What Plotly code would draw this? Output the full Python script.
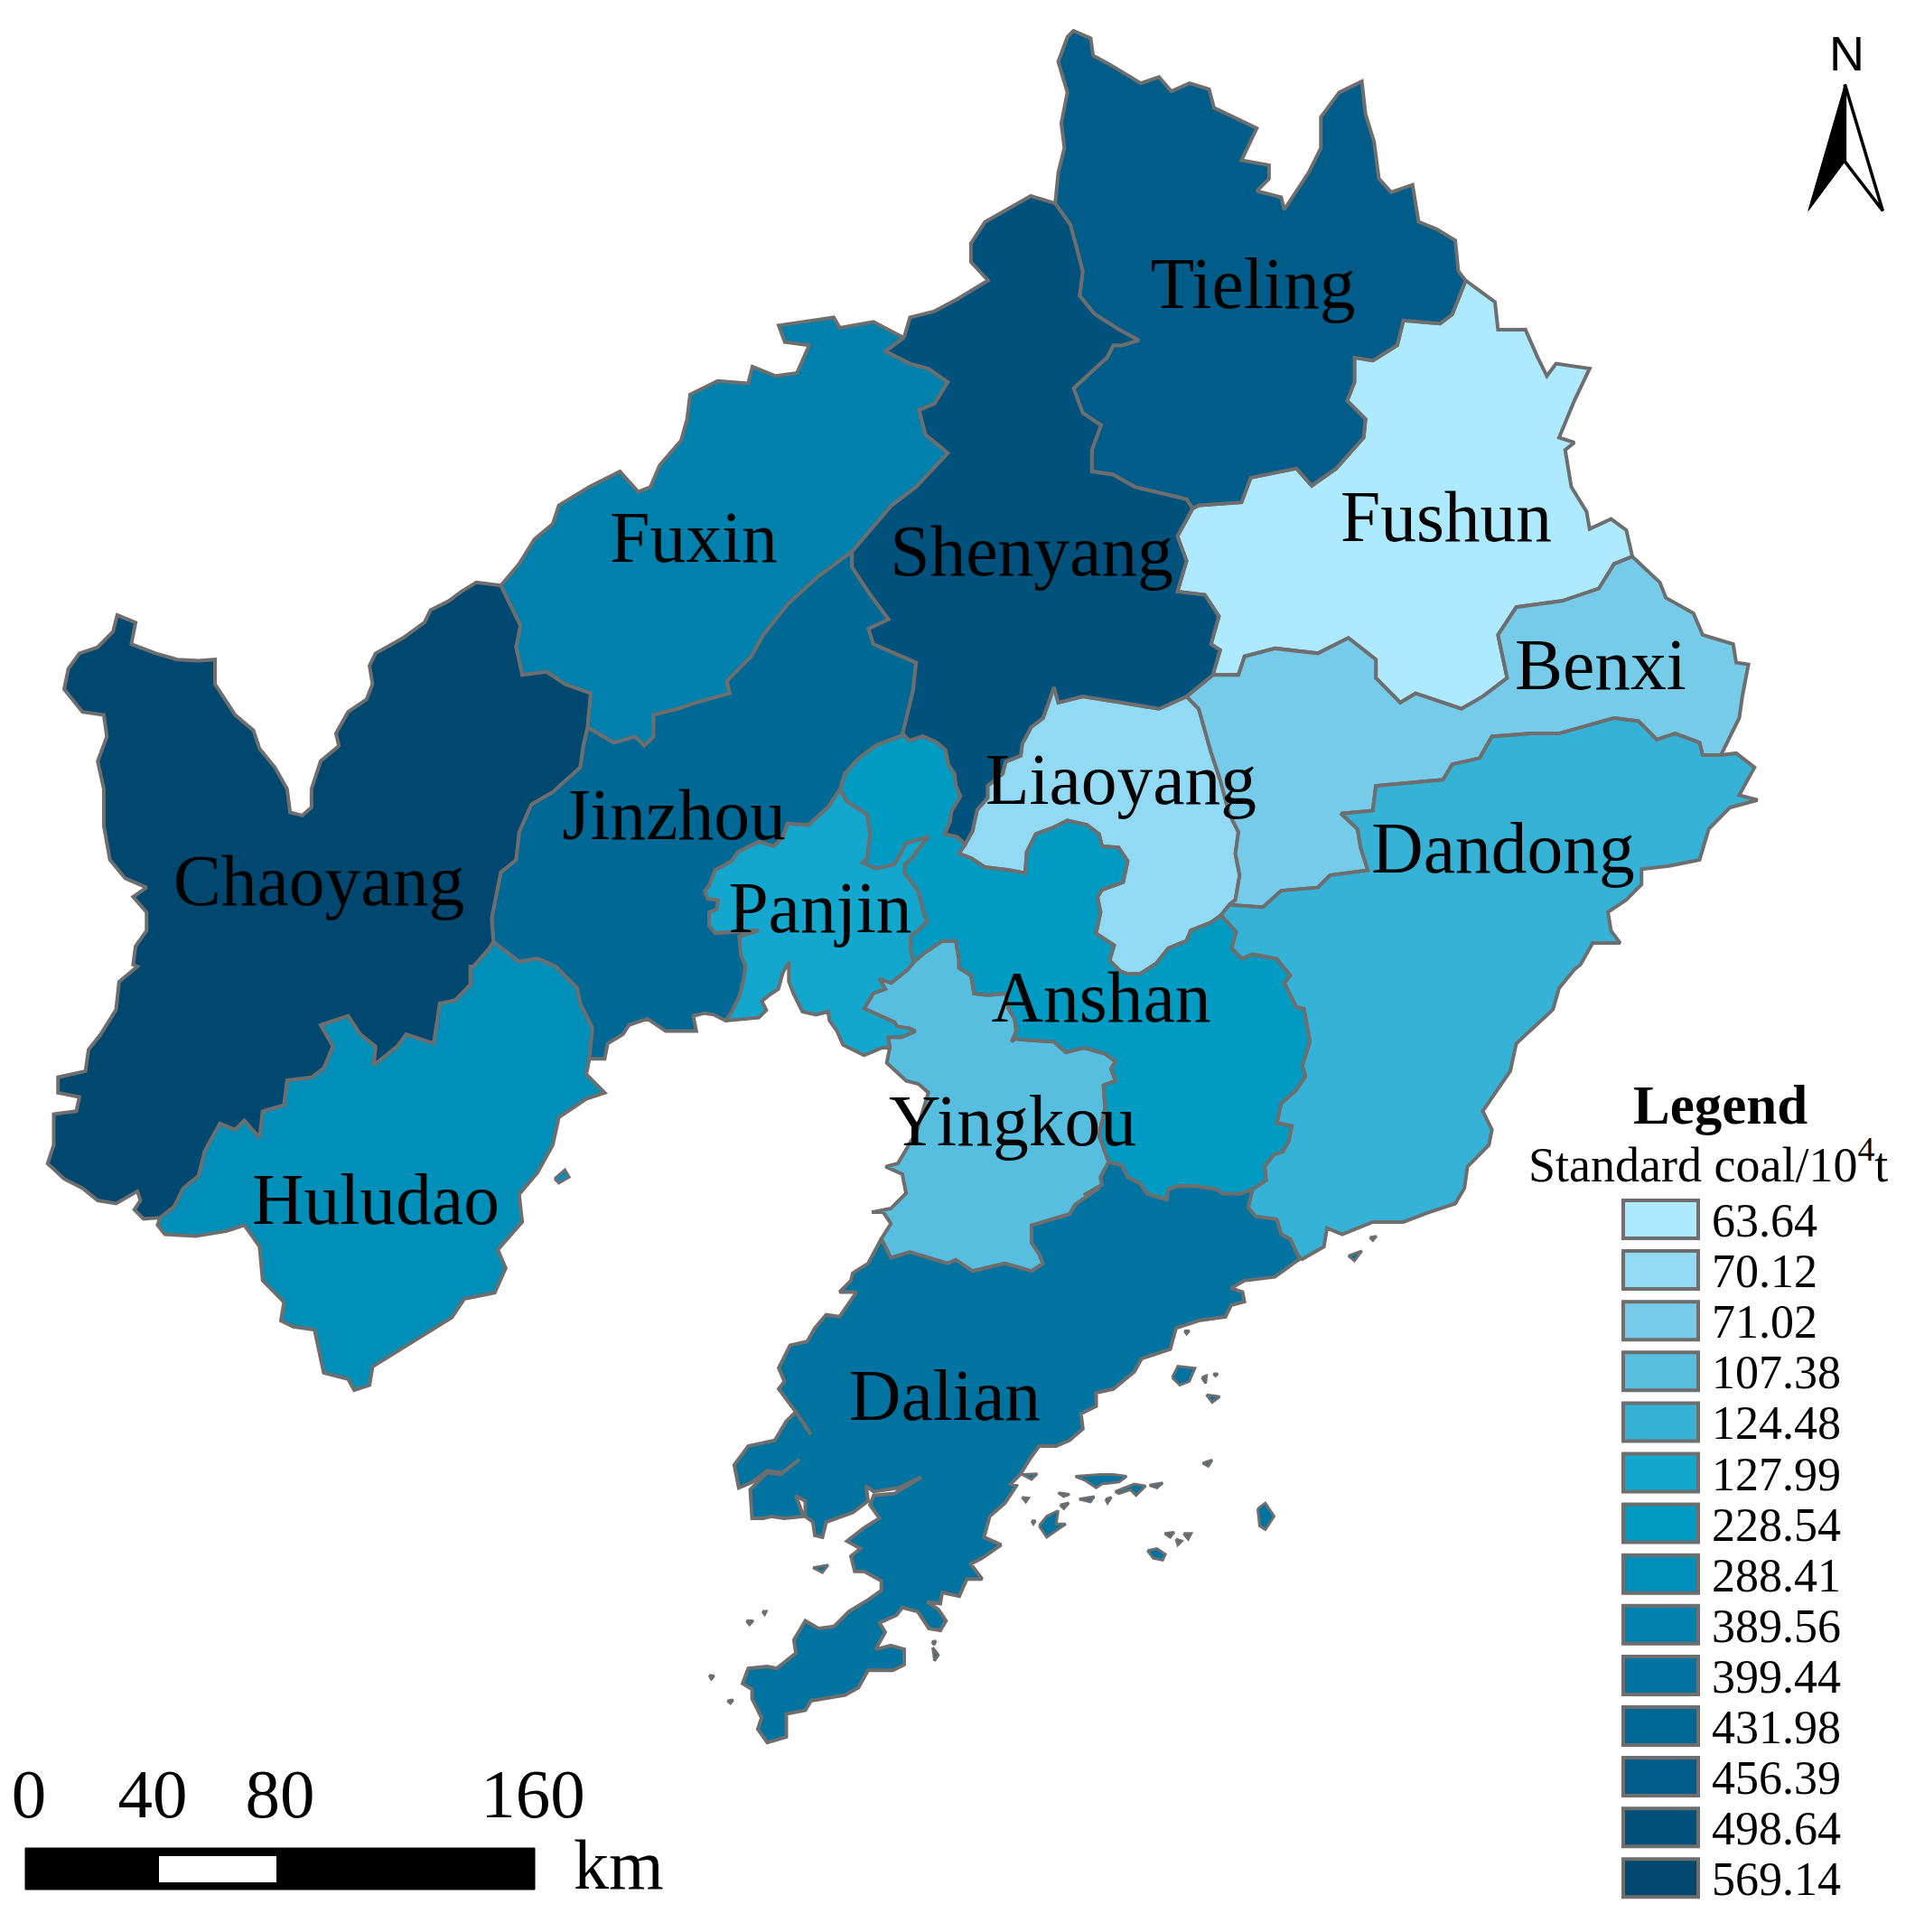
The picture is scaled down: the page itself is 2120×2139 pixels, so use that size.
import plotly.graph_objects as go

# Crops the outlines were read from: (left, top, x magnification, y magnification) in page units
Q1 = (0, 0, 1.479, 1.4654); Q2 = (1060, 0, 1.479, 1.4654); Q3 = (0, 1070, 1.479, 1.4668); Q4 = (1060, 1070, 1.479, 1.4668)
C5 = (760, 780, 3.0, 3.0); C6 = (780, 1300, 2.376, 2.376); C7 = (1120, 1000, 3.0, 3.0)

def P(crop, pts):
    ox, oy, kx, ky = crop
    return [(ox + x / kx, oy + y / ky) for x, y in pts]

def R(seg):
    return seg[::-1]

# ---- shared borders ----
COAST_CH = P(Q1, [(820,950),(780,945),(755,960),(735,975),(705,990),(695,1010),(660,1035),(615,1060),(605,1080),(610,1110),(600,1135),(570,1155),(550,1190),(555,1210),(525,1235),(510,1280),(510,1310),(495,1323),(475,1318),(470,1280),(450,1245),(425,1215),(415,1185),(385,1160),(352,1110),(352,1070),(325,1072),(290,1070),(255,1060),(215,1045),(222,1010),(192,998),(185,1025),(160,1050),(130,1060),(112,1085),(105,1118),(135,1155),(170,1160),(175,1195),(160,1235),(170,1280),(170,1340),(180,1395),(205,1425),(240,1440),(218,1455),(240,1480),(240,1510),(222,1535),(218,1565)]) + \
    P(Q3, [(225,0),(195,25),(190,70),(165,110),(145,135),(140,170),(95,180),(95,205),(130,212),(125,235),(88,240),(88,290),(78,320),(105,345),(135,360),(160,380),(190,385),(225,365),(230,380),(220,395),(235,410),(262,408)])
CH_HU = P(Q3, [(262,408),(285,390),(300,360),(325,340),(335,300),(360,255),(385,265),(400,250),(425,278),(430,235),(465,225),(470,185),(510,180),(530,165),(545,130),(525,95),(570,80),(590,110),(615,130),(612,160),(625,150),(650,130),(665,110),(710,125),(720,60),(745,55),(770,30),(770,0)]) + \
    P(Q1, [(775,1568),(800,1540),(808,1528)])
CH_JZ = P(Q1, [(808,1528),(805,1490),(820,1415),(845,1395),(850,1350),(870,1305),(905,1285),(950,1245),(955,1210),(962,1180)])
FU_CH = P(Q1, [(820,950),(852,1015),(845,1050),(855,1095),(895,1090),(925,1110),(967,1125),(962,1180)])
COAST_FU = P(Q1, [(820,950),(850,915),(875,875),(905,850),(915,820),(965,790),(1015,765),(1045,798),(1065,790),(1080,755),(1115,715),(1125,680),(1130,640),(1175,618),(1225,622),(1232,595),(1270,610),(1305,605),(1325,560),(1285,555),(1275,528),(1365,515),(1375,532),(1430,522),(1480,548)])
FU_SY = P(Q1, [(1480,548),(1450,570),(1490,590),(1520,598),(1552,620),(1530,655),(1505,665),(1515,705),(1552,735),(1500,790),(1460,820),(1395,895)])
FU_JZ = P(Q1, [(962,1180),(1005,1205),(1040,1195),(1055,1210),(1070,1195),(1070,1160),(1110,1150),(1140,1140),(1195,1125),(1190,1105),(1230,1065),(1250,1030),(1290,980),(1340,935),(1395,895)])
SY_JZ = P(Q1, [(1395,895),(1395,920),(1425,965),(1455,1005),(1422,1020),(1430,1045),(1500,1075),(1495,1120),(1478,1190)])
AS_JZ = P(C5, [(722,100),(630,135),(570,180),(525,230),(510,280)])
PJ_JZ = P(C5, [(510,280),(470,340),(415,390),(405,400),(335,395),(320,440),(290,470),(240,455),(170,490),(150,520),(95,550),(75,600),(60,620),(70,645),(105,650),(100,680),(75,690),(75,735),(95,760),(170,755),(240,750),(175,770),(180,830),(195,870),(190,910),(175,970),(150,1020),(130,1050)])
COAST_JZ = P(C5, [(130,1050),(90,1030),(60,1025),(20,1035)]) + \
    P(Q3, [(1135,80),(1140,105),(1090,105),(1060,85),(1030,95),(1020,110),(995,125),(990,150),(965,150)])
HU_JZ = P(Q3, [(965,150),(970,100),(950,60),(945,35),(910,0)]) + P(Q1, [(880,1555),(850,1560),(808,1528)])
COAST_HU = P(Q3, [(965,150),(960,175),(990,205),(960,215),(915,245),(905,290),(880,335),(850,370),(855,415),(815,460),(828,490),(810,530),(760,540),(740,570),(700,595),(610,650),(605,680),(580,688),(570,670),(530,660),(515,590),(480,585),(460,575),(465,545),(430,510),(425,455),(400,420),(370,430),(320,438),(270,435),(258,420),(262,408)])
COAST_SY = P(Q1, [(1480,548),(1490,515),(1530,505)]) + P(Q2, [(0,485),(50,455),(22,425),(22,395),(45,360),(120,318),(160,330)])
SY_TL = P(Q2, [(160,330),(185,365),(205,440),(200,480),(225,510),(265,535),(297,552),(270,560),(255,560),(245,580),(190,630),(205,670),(235,690),(220,730),(220,765),(255,770),(290,790),(375,810),(385,825)])
COAST_TL = P(Q2, [(160,330),(165,280),(175,240),(170,200),(180,150),(165,100),(180,60),(190,50),(218,62),(222,90),(250,105),(300,135),(330,125),(350,148),(380,135),(412,145),(420,175),(490,208),(465,260),(510,268),(510,290),(490,310),(530,320),(535,340),(575,280),(595,240),(595,190),(625,150),(662,132),(668,185),(682,230),(690,290),(710,312),(745,300),(755,360),(785,372),(815,390),(820,440),(832,455)])
TL_FS = P(Q2, [(832,455),(810,510),(790,525),(730,520),(720,560),(680,585),(650,580),(650,620),(638,650),(668,680),(665,710),(620,760),(580,788),(555,760),(480,775),(465,815),(395,820),(385,825)])
COAST_FS = P(Q2, [(832,455),(880,490),(885,535),(930,535),(950,580),(965,610),(980,590),(1035,598),(1010,650),(985,710),(1010,718),(995,730),(1005,790),(1030,830),(1035,858),(1070,842),(1095,860),(1105,903)])
FS_BX = P(Q2, [(1105,903),(1075,915),(1050,955),(990,975),(915,985),(885,1030),(900,1100),(860,1130),(825,1150),(750,1125),(725,1140),(685,1100),(685,1070),(640,1035),(590,1060),(520,1052),(470,1065),(460,1095),(418,1095)])
SY_FS = P(Q2, [(385,825),(360,870),(375,910),(360,960),(405,965),(428,1000),(415,1045),(430,1055),(418,1095)])
SY_BX = P(Q2, [(418,1095),(375,1130)])
SY_LY = P(Q2, [(375,1130),(330,1150),(270,1140),(205,1130),(165,1140),(158,1115),(140,1165)]) + \
    P(C5, [(1145,75),(1115,130),(1110,170),(1060,190),(1050,230),(1000,270),(1000,310),(965,350),(950,420),(925,465)])
SY_AS = P(C5, [(722,100),(740,120),(785,105),(830,125),(860,150),(870,200),(890,230),(895,270),(910,305),(880,355),(875,390),(857,430),(900,440),(925,465)])
LY_AS = P(C5, [(925,465),(905,495),(945,510),(990,540),(1070,550),(1125,560),(1130,490),(1160,430),(1215,410),(1265,385),(1330,400),(1370,430),(1380,470),(1435,475),(1465,520),(1450,590),(1380,615),(1365,640),(1375,690),(1360,760),(1420,800),(1405,850),(1440,885)]) + \
    P(C7, [(385,235),(425,235),(480,200),(520,150),(580,125),(595,90),(660,65),(695,40)])
LY_BX = P(Q2, [(375,1130),(395,1150),(415,1220),(430,1265),(445,1320),(460,1350),(455,1385),(462,1420),(455,1460),(445,1468)])
BX_DD = P(Q2, [(445,1468),(500,1472),(530,1445),(590,1440),(610,1420),(672,1412),(660,1375),(655,1345),(628,1320),(680,1315),(685,1275),(795,1265),(810,1240),(855,1230),(875,1195),(940,1190),(985,1190),(1040,1175),(1075,1165),(1115,1170),(1145,1200),(1175,1190),(1215,1205),(1220,1225),(1250,1225)])
COAST_BX = P(Q2, [(1105,903),(1150,945),(1160,970),(1205,995),(1220,1030),(1270,1045),(1275,1075),(1295,1078),(1285,1130),(1280,1165),(1250,1225)])
COAST_DD = P(Q2, [(1250,1225),(1275,1222),(1305,1245),(1280,1290),(1310,1298),(1265,1310),(1230,1345),(1215,1395),(1165,1405),(1120,1410),(1120,1435),(1095,1460),(1065,1480),(1070,1510),(1085,1530),(1040,1530),(1020,1565)]) + \
    P(Q4, [(1010,5),(985,35),(975,70),(915,125),(905,170),(860,235),(875,265),(870,290),(835,325),(830,360),(815,385),(770,400),(730,415),(680,415),(630,435),(605,425),(600,455),(565,475)])
AS_DD = P(C7, [(695,40),(745,95),(730,150),(765,185),(800,170),(880,185),(925,240),(905,265),(945,345),(970,350),(985,430),(990,460),(965,540),(975,575),(945,620),(895,665),(880,730),(930,740),(920,790),(900,825),(870,835),(840,875),(845,920),(800,950)])
DD_DL = P(C7, [(800,950),(785,1010),(810,1040),(880,1050),(895,1100),(925,1115),(950,1170),(960,1180)])
AS_DL = P(C7, [(800,950),(760,965),(700,965),(680,950),(610,940),(550,940),(520,950),(515,985),(450,965),(425,930),(385,910),(365,870),(322,860)])
PJ_AS = P(C5, [(510,280),(530,320),(600,365),(610,430),(600,510),(585,525),(630,545),(690,530),(730,460),(805,438),(770,480),(750,510),(725,530),(725,560),(770,620),(790,700),(800,720),(775,745),(745,770),(745,820),(755,855)])
AS_YK = P(C5, [(755,855),(790,825),(850,785),(895,785),(905,850),(905,875),(945,900),(955,960),(1000,965),(1060,960),(1070,1010),(1090,1045),(1095,1085),(1080,1120)]) + \
    P(C7, [(10,450),(60,455),(140,460),(180,495),(240,480),(310,500),(345,525),(330,550),(345,590),(305,605),(310,680),(290,770),(322,860)])
PJ_YK = P(C5, [(755,855),(735,880),(680,925),(640,910),(660,945),(620,960),(590,1010),(690,1055),(700,1070),(740,1075),(760,1085),(715,1105),(670,1105),(675,1140)])
COAST_PJ = P(C5, [(130,1050),(200,1045),(240,1040),(265,1015),(250,985),(275,965),(305,945),(320,890),(340,855),(340,920),(355,960),(385,1020),(430,1030),(470,1020),(475,1050),(500,1085),(520,1130),(590,1165),(650,1140),(675,1140)])
YK_DL = P(C7, [(322,860),(295,910),(300,935),(240,970)]) + \
    P(C6, [(1040,35),(975,80),(960,105),(860,135),(860,180),(880,210),(890,235),(860,255),(790,235),(705,255),(660,225),(640,235),(540,205),(490,220),(465,170)])
COAST_YK = P(C6, [(465,170),(490,130),(470,100),(440,100),(490,90),(530,50),(520,0)]) + \
    P(Q3, [(1450,325),(1470,320),(1500,270),(1520,205)]) + \
    P(C5, [(770,1260),(730,1250),(665,1190),(675,1140)])
COAST_DL = P(C6, [(1555,230),(1500,270),(1420,280),(1385,300),(1415,310),(1420,335),(1385,345),(1370,375),(1300,385),(1240,405),(1225,460),(1150,485),(1130,520),(1075,565),(1030,575),(1030,610),(990,630),(995,670),(960,700),(925,715),(880,715),(855,750),(830,790),(805,815),(820,820),(790,865),(750,900),(735,955),(780,975),(730,1010),(700,1025),(730,1065),(690,1065),(670,1110),(625,1100),(620,1130),(585,1125),(615,1145),(635,1175),(620,1200),(590,1195),(560,1150),(520,1140),(505,1160),(460,1180),(475,1205),(450,1250),(490,1240),(525,1250),(525,1290),(495,1305),(430,1305),(405,1350),(370,1370),(280,1385),(265,1410),(215,1420),(215,1480),(165,1495),(140,1460),(150,1430),(125,1380),(125,1355),(100,1340),(115,1300),(165,1295),(190,1300),(240,1260),(235,1225),(265,1175),(300,1195),(340,1190),(380,1150),(430,1120),(465,1095),(465,1070),(420,1045),(395,1045),(385,1005),(410,985),(375,965),(420,930),(460,905),(435,870),(445,845),(500,840),(570,797),(510,825),(445,835),(425,820),(430,860),(390,890),(320,915),(310,955),(290,950),(285,915),(265,900),(265,860),(240,845),(260,900),(210,905),(175,900),(155,905),(125,905),(120,830),(165,785),(200,790),(250,750),(205,785),(165,780),(125,810),(90,825),(78,765),(115,715),(185,700),(215,650),(240,625),(280,685),(240,625),(195,565),(210,545),(195,510),(225,450),(270,440),(290,405),(320,370),(355,375),(400,310),(355,310),(385,280),(390,260),(430,235),(465,170)])

# ---- regions ----
REGION_NAMES = ["Fushun","Liaoyang","Benxi","Yingkou","Dandong","Panjin","Anshan","Huludao","Fuxin","Dalian","Jinzhou","Tieling","Shenyang","Chaoyang"]
LEGEND_LABELS = ["63.64","70.12","71.02","107.38","124.48","127.99","228.54","288.41","389.56","399.44","431.98","456.39","498.64","569.14"]
LEGEND_COLORS = ["#ADE9FF","#92D9F3","#76CBE9","#57BEE0","#35B2D6","#13A7CD","#009BC3","#008FB8","#0080AC","#0073A0","#006894","#005D89","#00527D","#004870"]
OUTLINE = "#6E6E6E"

OUTLINES = {
    "Chaoyang": COAST_CH + CH_HU + CH_JZ + R(FU_CH),
    "Fuxin": COAST_FU + FU_SY + R(FU_JZ) + R(FU_CH),
    "Jinzhou": FU_JZ + SY_JZ + AS_JZ + PJ_JZ + COAST_JZ + HU_JZ + CH_JZ,
    "Huludao": CH_HU + R(HU_JZ) + COAST_HU,
    "Shenyang": COAST_SY + SY_TL + SY_FS + SY_BX + SY_LY + R(SY_AS) + R(SY_JZ) + R(FU_SY),
    "Tieling": COAST_TL + TL_FS + R(SY_TL),
    "Fushun": COAST_FS + FS_BX + R(SY_FS) + R(TL_FS),
    "Benxi": COAST_BX + R(BX_DD) + R(LY_BX) + R(SY_BX) + R(FS_BX),
    "Liaoyang": R(SY_LY) + LY_BX + R(LY_AS),
    "Anshan": SY_AS + LY_AS + AS_DD + AS_DL + R(AS_YK) + R(PJ_AS) + R(AS_JZ),
    "Panjin": PJ_JZ + COAST_PJ + R(PJ_YK) + R(PJ_AS),
    "Yingkou": AS_YK + YK_DL + COAST_YK + R(PJ_YK),
    "Dandong": BX_DD + COAST_DD + R(DD_DL) + R(AS_DD),
    "Dalian": R(AS_DL) + DD_DL + COAST_DL + R(YK_DL),
}

DALIAN_ISLANDS = [
    [(1230,535),(1245,505),(1290,510),(1275,545),(1250,555)],
    [(1308,535),(1320,530),(1318,550)],[(1320,580),(1355,585),(1335,600)],
    [(1310,760),(1335,752),(1325,768)],
    [(975,795),(1040,790),(1075,790),(1110,795),(1090,810),(1045,815),(1030,825),(1000,805)],
    [(1080,835),(1130,815),(1160,820),(1135,845),(1120,830),(1090,840)],
    [(1170,818),(1205,812),(1190,825)],[(985,855),(1025,848),(1015,862)],
    [(930,838),(960,842),(945,848)],[(1055,855),(1070,850),(1060,865)],
    [(880,925),(900,900),(930,885),(925,920),(950,920),(900,955)],
    [(935,870),(958,865),(945,880)],[(860,912),(870,912),(865,920)],
    [(835,850),(852,852),(845,862)],[(835,790),(875,788),(860,803)],
    [(1210,945),(1235,942),(1225,955)],[(1240,960),(1255,965),(1245,975)],
    [(1260,945),(1280,945),(1272,960)],
    [(1165,990),(1190,985),(1212,1000),(1205,1015),(1180,1010)],
    [(1455,880),(1475,865),(1498,900),(1475,935),(1460,925)],
    [(1338,525),(1350,525),(1344,531)],[(285,1035),(325,1028),(310,1048)],
    [(598,1230),(608,1228),(604,1238)],[(600,1245),(615,1265),(605,1280)],
    [(110,1175),(128,1175),(118,1185)],[(152,1150),(162,1150),(158,1158)],
    [(12,1318),(25,1320),(18,1328)],[(60,1385),(75,1383),(68,1392)],
    [(1262,412),(1275,412),(1268,420)],
]
HULUDAO_ISLAND = [(908,345),(925,330),(932,342),(915,352)]
SMALL_ISLES_Q4 = [[(640,470),(662,462),(650,478)],[(675,440),(686,438),(680,445)]]

# ---- text ----
LABEL_NAMES = ["Tieling","Fuxin","Shenyang","Fushun","Benxi","Liaoyang","Chaoyang","Jinzhou","Panjin","Dandong","Anshan","Yingkou","Huludao","Dalian"]
LABEL_X = [1387,768,1142,1601,1772,1241,353,746,908,1664,1219,1121,416,1046]
LABEL_Y = [321,602,617,579,743,870,982,909,1012,946,1111,1248,1335,1552]
SCALE_TICKS = ["0","40","80","160"]
SCALE_TICK_X = [32,169,310,590]

SERIF = "Liberation Serif"
fig = go.Figure()

def poly(pts, fill, name, lw=4, color=OUTLINE):
    xs = [p[0] for p in pts] + [pts[0][0]]
    ys = [p[1] for p in pts] + [pts[0][1]]
    fig.add_trace(go.Scatter(x=xs, y=ys, mode="lines", fill="toself", fillcolor=fill,
                             line=dict(color=color, width=lw), name=name, hoverinfo="name"))

for name, label, col in zip(REGION_NAMES, LEGEND_LABELS, LEGEND_COLORS):
    poly(OUTLINES[name], col, f"{name}: {label}")

dalian_col = LEGEND_COLORS[REGION_NAMES.index("Dalian")]
for isl in DALIAN_ISLANDS:
    poly(P(C6, isl), dalian_col, "Dalian", lw=3)
for isl in SMALL_ISLES_Q4:
    poly(P(Q4, isl), dalian_col, "Dalian", lw=3)
poly(P(Q3, HULUDAO_ISLAND), LEGEND_COLORS[REGION_NAMES.index("Huludao")], "Huludao", lw=3)

fig.add_trace(go.Scatter(x=LABEL_X, y=LABEL_Y, mode="text", text=LABEL_NAMES,
                         textposition="middle center", hoverinfo="skip",
                         textfont=dict(family=SERIF, size=79.5, color="black")))

shapes = []
for i, (label, col) in enumerate(zip(LEGEND_LABELS, LEGEND_COLORS)):
    y0 = 1329 + i * 56.1
    shapes.append(dict(type="rect", x0=1797, x1=1880, y0=y0, y1=y0 + 42, xref="x", yref="y",
                       fillcolor=col, line=dict(color=OUTLINE, width=4)))
fig.add_trace(go.Scatter(x=[1895] * len(LEGEND_LABELS),
                         y=[1356 + i * 56.1 for i in range(len(LEGEND_LABELS))],
                         mode="text", text=LEGEND_LABELS, textposition="middle right",
                         hoverinfo="skip", textfont=dict(family=SERIF, size=52, color="black")))

# scale bar
shapes.append(dict(type="rect", x0=28, x1=592, y0=2046, y1=2092, fillcolor="black",
                   line=dict(color="black", width=1)))
shapes.append(dict(type="rect", x0=176, x1=306, y0=2055, y1=2084, fillcolor="white",
                   line=dict(color="white", width=0)))
fig.add_trace(go.Scatter(x=SCALE_TICK_X, y=[1993] * 4, mode="text", text=SCALE_TICKS,
                         textposition="middle center", hoverinfo="skip",
                         textfont=dict(family=SERIF, size=77, color="black")))

annos = [
    dict(x=1904, y=1223, text="<b>Legend</b>", font=dict(family=SERIF, size=61, color="black")),
    dict(x=1891, y=1285, text="Standard coal/10<sup>4</sup>t", font=dict(family=SERIF, size=54, color="black")),
    dict(x=685, y=2064, text="km", font=dict(family=SERIF, size=78, color="black")),
    dict(x=2044, y=59, text="N", font=dict(family="Liberation Sans", size=54, color="black")),
]
for a in annos:
    a.update(xref="x", yref="y", showarrow=False, xanchor="center", yanchor="middle")

# north arrow
poly(P(Q2, [(1453,137),(1393,342),(1453,262)]), "black", "North", lw=1, color="black")
poly(P(Q2, [(1453,137),(1515,342),(1453,262)]), "white", "North", lw=3.5, color="black")

fig.update_layout(
    width=2120, height=2139, margin=dict(l=0, r=0, t=0, b=0),
    paper_bgcolor="white", plot_bgcolor="white", showlegend=False,
    xaxis=dict(range=[0, 2120], visible=False, fixedrange=True),
    yaxis=dict(range=[2139, 0], visible=False, fixedrange=True),
    shapes=shapes, annotations=annos,
)
fig.write_html("out.html", config={"displayModeBar": False},
               post_script="document.body.style.margin='0';document.body.style.overflow='hidden';")
